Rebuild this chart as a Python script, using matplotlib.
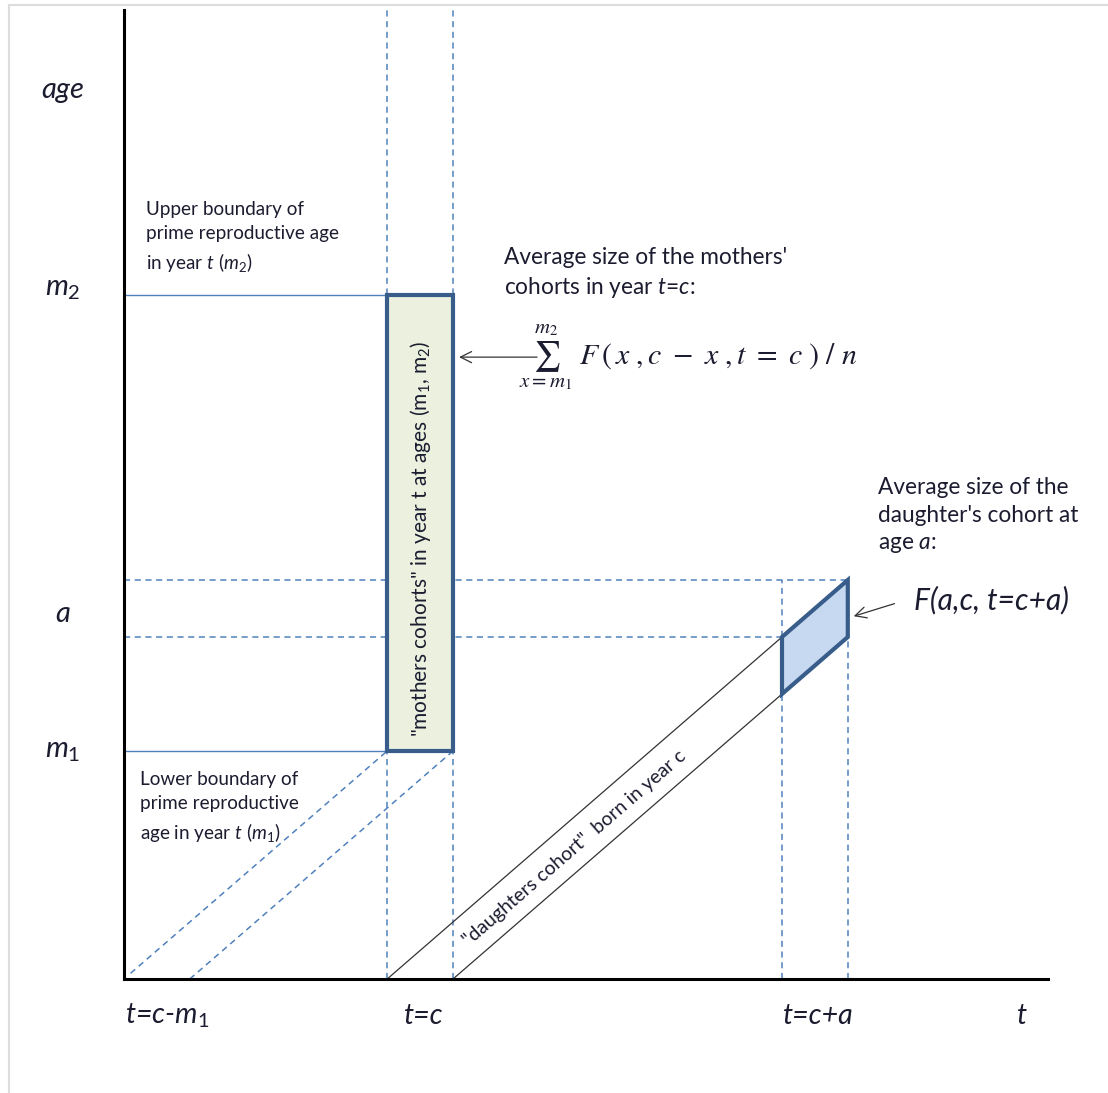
""" Lexis diagram: mothers' cohorts vs daughters' cohort """
import numpy as np
import matplotlib
matplotlib.use("Agg")
import matplotlib.pyplot as plt
from matplotlib.patches import Polygon, Rectangle

plt.rcParams['font.family'] = ['Lato', 'DejaVu Sans']
plt.rcParams['mathtext.fontset'] = 'custom'
plt.rcParams['mathtext.rm'] = 'Lato'
plt.rcParams['mathtext.it'] = 'Lato:italic'

# diagram values (time and age in years, t = c - m1 at the origin)
c = 4
n = 1
m1 = 4
m2 = 12
a = 6
t_max = 14.04
age_max = 17.0

# axis labels: text, position
t_labels = [r"t=c-$m_1$", "t=c", "t=c+a", "t"]
t_label_pos = [0.66, 4.55, 10.55, 13.65]
age_labels = ["age", r"$m_2$", r"$a$", r"$m_1$"]
age_label_pos = [15.6, 12.1, 6.4, 4.0]

BLUE = '#4f81bd'
EDGE = '#385d8a'
TXT = '#1c1c30'

PX_T, PX_A = 65.8, 57.0   # pixels per year along t and age

fig = plt.figure(figsize=(11.08, 10.93), dpi=100)
ax = fig.add_axes([0, 0, 1, 1])
ax.set_xlim(-124 / PX_T, 984 / PX_T)
ax.set_ylim(-114 / PX_A, 979 / PX_A)
ax.axis('off')

# faint frame of the original picture
fig.add_artist(plt.Line2D([0.008, 0.008], [0, 0.995], color='#dddddd', lw=1.5))
fig.add_artist(plt.Line2D([0.008, 1], [0.995, 0.995], color='#dddddd', lw=1.5))

dash = dict(color=BLUE, lw=1.1, ls=(0, (4, 3)))

# vertical dashed lines at t=c, c+n and t=c+a, c+a+n
for t in [c, c + n]:
    ax.plot([t, t], [0, age_max], **dash)
ax.plot([c + a, c + a], [0, a + 1], **dash)
ax.plot([c + a + n, c + a + n], [0, a + 1], **dash)

# horizontal dashed lines at age a and a+1
ax.plot([0, c + a], [a, a], **dash)
ax.plot([0, c + a + n], [a + 1, a + 1], **dash)

# dashed cohort lines of the youngest mothers
ax.plot([0.1, c], [0.1, m1], **dash)
ax.plot([n, c + n], [0, m1], **dash)

# thin solid lines for m1, m2
ax.plot([0, c], [m1, m1], color=BLUE, lw=1.0)
ax.plot([0, c], [m2, m2], color=BLUE, lw=1.0)

# daughters' cohort lines
ax.plot([c, c + a], [0, a], color='#333333', lw=0.9)
ax.plot([c + n, c + a], [0, a - n], color='#333333', lw=0.9)

# mothers' rectangle
ax.add_patch(Rectangle((c, m1), n, m2 - m1, facecolor='#ebf1de', edgecolor=EDGE, lw=3, zorder=3))
# daughters' parallelogram
ax.add_patch(Polygon([(c + a, a - n), (c + a, a), (c + a + n, a + n), (c + a + n, a)],
                     closed=True, facecolor='#c6d9f1', edgecolor=EDGE, lw=3, zorder=3))

# axes
ax.plot([0, 0], [0, age_max], color='black', lw=2.2, zorder=4)
ax.plot([0, t_max], [0, 0], color='black', lw=2.2, zorder=4)

for lab, t in zip(t_labels, t_label_pos):
    ax.text(t, -0.65, lab, fontsize=20.5, style='italic', color=TXT, ha='center', va='center')
for lab, y in zip(age_labels, age_label_pos):
    ax.text(-0.93, y, lab, fontsize=21, style='italic', color=TXT, ha='center', va='center')

small = dict(fontsize=13.6, color=TXT, linespacing=1.5, va='top', ha='left')
ax.text(0.33, 13.65, "Upper boundary of\nprime reproductive age\nin year $t\\ (m_2)$", **small)
ax.text(0.24, 3.65, "Lower boundary of\nprime reproductive\nage in year $t\\ (m_1)$", **small)

mid = dict(fontsize=16.3, color=TXT, linespacing=1.38, va='top', ha='left')
ax.text(5.78, 12.85, "Average size of the mothers'\ncohorts in year $t$=$c$:", **mid)
ax.text(11.46, 8.8, "Average size of the\ndaughter's cohort at\nage $a$:", **mid)

ax.text(6.0, 10.91, r"$\sum_{x=m_1}^{m_2}\ F\,(\,x\ ,c\ -\ x\ ,t\ =\ c\ )\ /\ n$",
        fontsize=21.5, color=TXT, math_fontfamily='stix', ha='left', va='center')
ax.annotate("", xy=(c + n + 0.05, 10.91), xytext=(6.32, 10.91),
            arrowprops=dict(arrowstyle='->', color='#333333', lw=0.9, mutation_scale=20))

ax.text(12.0, 6.65, "F(a,c, t=c+a)", fontsize=21.5, style='italic', color=TXT, ha='left', va='center')
ax.annotate("", xy=(c + a + n + 0.05, 6.35), xytext=(11.75, 6.6),
            arrowprops=dict(arrowstyle='->', color='#333333', lw=0.9, mutation_scale=20))

ax.text(c + n / 2, 7.72, "\"mothers cohorts\" in year t at ages (m$_1$, m$_2$)", rotation=90,
        fontsize=15, color=TXT, ha='center', va='center', zorder=5)
ax.text(6.85, 2.3, "\"daughters cohort\"  born in year c", rotation=45, transform_rotates_text=True,
        rotation_mode='anchor', fontsize=14, color=TXT, ha='center', va='center')

fig.savefig("out.png", dpi=100)
